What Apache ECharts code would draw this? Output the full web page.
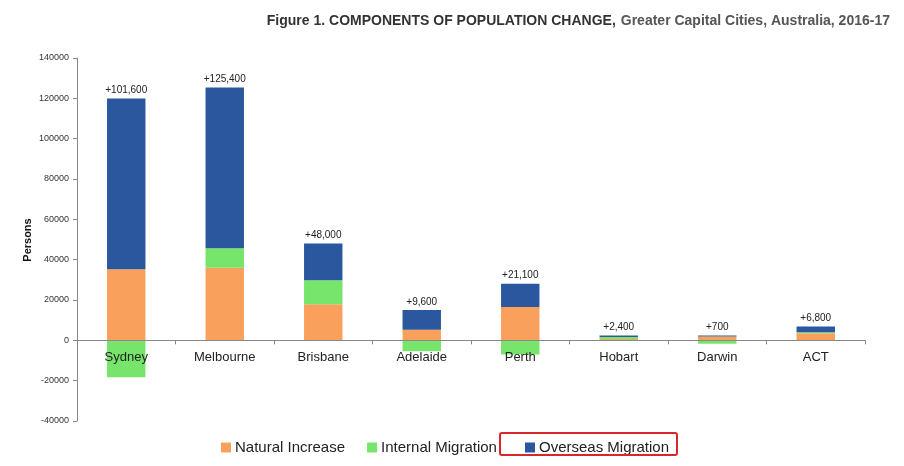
<!DOCTYPE html>
<html>
<head>
<meta charset="utf-8">
<script src="https://cdn.jsdelivr.net/npm/echarts@6/dist/echarts.min.js"></script>
<style>
  html, body { margin: 0; padding: 0; background: #fff; }
  #chart { width: 904px; height: 466px; }
</style>
</head>
<body>
<div id="chart"></div>
<script>
// data (persons)
var cities = ['Sydney', 'Melbourne', 'Brisbane', 'Adelaide', 'Perth', 'Hobart', 'Darwin', 'ACT'];
var naturalIncrease = [35300, 36000, 17900, 5300, 16500, 700, 1900, 3500];
var internalMigration = [-18300, 9600, 11900, -5400, -7000, 1000, -1700, 500];
var overseasMigration = [84600, 79800, 18200, 9700, 11600, 700, 500, 2800];
var totalLabels = ['+101,600', '+125,400', '+48,000', '+9,600', '+21,100', '+2,400', '+700', '+6,800'];
var yTicks = { min: -40000, max: 140000, interval: 20000 };

var gridTop = 58, gridBottom = 45, chartH = 466;
// put the category axis on the zero line
var zeroOffset = -(chartH - gridTop - gridBottom) * (0 - yTicks.min) / (yTicks.max - yTicks.min);

var chart = echarts.init(document.getElementById('chart'));

var legendText = { fontSize: 15, color: '#222', padding: [0, 0, 0, -1] };

var option = {
  animation: false,
  textStyle: { fontFamily: 'Liberation Sans, Arial, sans-serif' },
  title: {
    right: 9,
    top: 7,
    text: '{b|Figure 1. COMPONENTS OF POPULATION CHANGE,} {n|Greater Capital Cities, Australia, 2016-17}',
    textStyle: {
      rich: {
        b: { fontSize: 14, fontWeight: 'bold', color: '#333', fontFamily: 'Liberation Sans, Arial' },
        n: { fontSize: 14, color: '#555', fontFamily: 'Liberation Sans, Arial' }
      }
    }
  },
  legend: [
    {
      bottom: 6,
      left: 216,
      itemWidth: 10,
      itemHeight: 10,
      itemGap: 22,
      icon: 'rect',
      textStyle: legendText,
      data: ['Natural Increase', 'Internal Migration']
    },
    {
      bottom: 6,
      left: 520,
      itemWidth: 10,
      itemHeight: 10,
      icon: 'rect',
      textStyle: legendText,
      data: ['Overseas Migration']
    }
  ],
  grid: { left: 77, right: 39, top: gridTop, bottom: gridBottom, containLabel: false },
  xAxis: {
    type: 'category',
    data: cities,
    z: 10,
    position: 'bottom',
    offset: zeroOffset,
    axisLine: { onZero: false, lineStyle: { color: '#888', width: 1 } },
    axisTick: { show: true, length: 4, lineStyle: { color: '#888' } },
    axisLabel: { fontSize: 13, color: '#222', margin: 11 }
  },
  yAxis: {
    type: 'value',
    min: yTicks.min,
    max: yTicks.max,
    interval: yTicks.interval,
    axisLine: { show: true, lineStyle: { color: '#888' } },
    axisTick: { show: true, length: 4, lineStyle: { color: '#888' } },
    splitLine: { show: false },
    axisLabel: {
      fontSize: 9,
      color: '#333',
      margin: 8,
      formatter: function (v) { return String(v); }
    }
  },
  series: [
    {
      name: 'Natural Increase',
      type: 'bar',
      stack: 'c',
      barWidth: '39%',
      itemStyle: { color: '#F9A05C' },
      data: naturalIncrease
    },
    {
      name: 'Internal Migration',
      type: 'bar',
      stack: 'c',
      itemStyle: { color: '#77E46C' },
      data: internalMigration
    },
    {
      name: 'Overseas Migration',
      type: 'bar',
      stack: 'c',
      itemStyle: { color: '#2B579E' },
      label: {
        show: true,
        position: 'top',
        distance: 3,
        fontSize: 10,
        color: '#222',
        formatter: function (p) { return totalLabels[p.dataIndex]; }
      },
      data: overseasMigration
    }
  ],
  graphic: [
    {
      // y axis title
      type: 'text',
      x: 28,
      y: 240,
      rotation: Math.PI / 2,
      style: {
        text: 'Persons',
        fontSize: 11,
        fontWeight: 'bold',
        fill: '#111',
        fontFamily: 'Liberation Sans, Arial',
        align: 'center',
        verticalAlign: 'middle'
      }
    },
    {
      type: 'rect',
      shape: { x: 500, y: 433, width: 177, height: 22, r: 2 },
      style: { fill: 'none', stroke: '#D9262A', lineWidth: 2 },
      z: 100
    }
  ]
};

chart.setOption(option);
</script>
</body>
</html>
